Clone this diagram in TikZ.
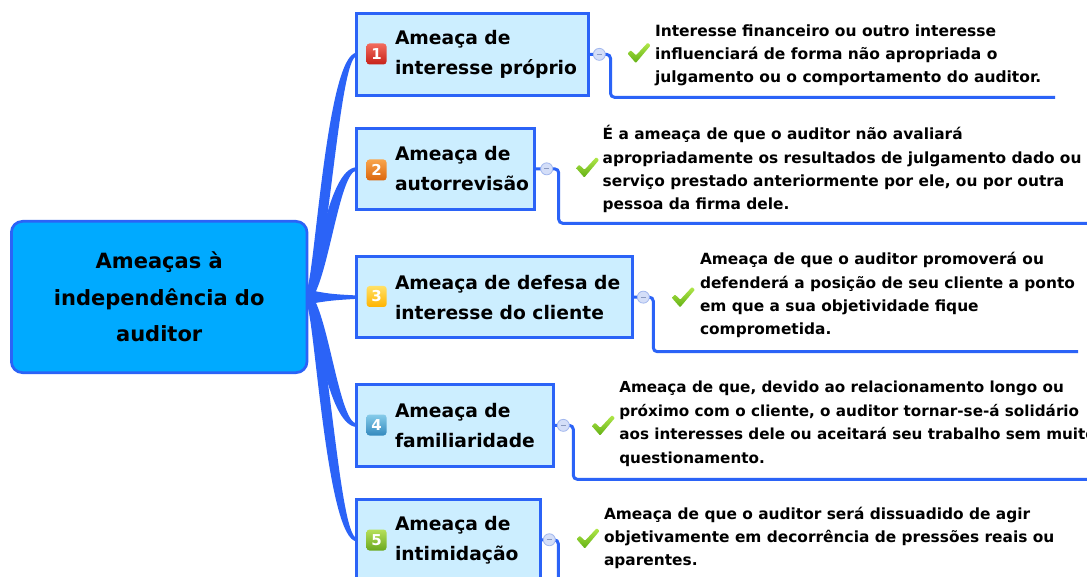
\documentclass[tikz,border=0pt]{standalone}
\usepackage{fontspec}
\setmainfont{DejaVu Sans}
\definecolor{branchblue}{HTML}{2B63F7}
\definecolor{rootfill}{HTML}{00AAFF}
\definecolor{topicfill}{HTML}{CCEEFF}
\definecolor{collfill}{HTML}{D4DEF8}
\definecolor{colldraw}{HTML}{A3B8EE}
\definecolor{minuscol}{HTML}{8A9AC0}
\definecolor{chkA}{HTML}{B2E84A}
\definecolor{chkB}{HTML}{62B014}
\definecolor{iconeAa}{HTML}{F26B5E}\definecolor{iconeAb}{HTML}{C62119}
\definecolor{iconeBa}{HTML}{F8A54C}\definecolor{iconeBb}{HTML}{DB650C}
\definecolor{iconeCa}{HTML}{FFE066}\definecolor{iconeCb}{HTML}{FFB300}
\definecolor{iconeDa}{HTML}{86CCEA}\definecolor{iconeDb}{HTML}{3389BE}
\definecolor{iconeEa}{HTML}{B6E05A}\definecolor{iconeEb}{HTML}{6AA81E}
\newcommand\tstrut{\rule{0pt}{15pt}}
\newcommand\checkmk[2]{%
  \begin{scope}[shift={(#1,#2)}]
    \shade[top color=chkA, bottom color=chkB, rounded corners=0.8pt]
      (-11.5,0.5) -- (-8.3,-2.7) -- (-3,2.3) -- (8.7,-10.3) -- (11.5,-7.5) -- (-3.2,10) -- cycle;
  \end{scope}}
\tikzset{
  branchfill/.style={fill=branchblue},
  rootbox/.style={draw=branchblue, line width=2.7pt, fill=rootfill, rounded corners=11pt,
    align=center, inner sep=0pt, font=\bfseries\fontsize{21}{36.7}\selectfont},
  topicbox/.style={draw=branchblue, line width=3pt, fill=topicfill, inner sep=0pt},
  title/.style={align=left, anchor=west, inner sep=0pt, outer sep=0pt,
    font=\bfseries\fontsize{18.7}{30}\selectfont},
  desc/.style={align=left, anchor=north west, inner sep=0pt, outer sep=0pt,
    font=\bfseries\fontsize{15.4}{23.3}\selectfont},
  conn/.style={draw=branchblue, line width=3pt, rounded corners=4pt},
  collapse/.style={circle, draw=colldraw, fill=collfill, line width=0.8pt,
    minimum size=12pt, inner sep=0pt,
    path picture={\draw[minuscol, line width=0.9pt]
      ([xshift=-2.5pt]path picture bounding box.center) --
      ([xshift=2.5pt]path picture bounding box.center);}},
  numicon/.style={draw=none, rounded corners=3pt, minimum width=20pt, minimum height=21pt,
    inner sep=0pt, text=white, font=\bfseries\fontsize{15}{15}\selectfont},
}
\begin{document}
\begin{tikzpicture}[x=1pt,y=-1pt]
\useasboundingbox (0,0) rectangle (1087,577);
\fill[white] (0,0) rectangle (1087,577);

% branches (tapered)
\fill[branchfill] (306,290) .. controls (314,290) and (326,52.7) .. (357,52.7)
  -- (357,56) .. controls (338,56) and (327,297) .. (306,304) -- cycle;
\fill[branchfill] (306,290) .. controls (314,290) and (326,167.2) .. (357,167.2)
  -- (357,170.5) .. controls (338,170.5) and (327,297) .. (306,304) -- cycle;
\fill[branchfill] (306,289.5) .. controls (330,294) .. (357,295.5)
  -- (357,298.8) .. controls (330,300.5) .. (306,304.5) -- cycle;
\fill[branchfill] (306,304) .. controls (314,304) and (326,427) .. (357,427)
  -- (357,423.7) .. controls (338,423.7) and (327,297) .. (306,290) -- cycle;
\fill[branchfill] (306,304) .. controls (314,304) and (326,541.4) .. (357,541.4)
  -- (357,538.1) .. controls (338,538.1) and (327,297) .. (306,290) -- cycle;

% central node
\node[rootbox, minimum width=295.6pt, minimum height=151.3pt] (root) at (159.2,297)
  {Ameaças à\\independência do\\auditor};

% topic boxes
\node[topicbox, minimum width=232pt, minimum height=81.7pt] (t1) at (472.5,54.35) {};
\node[topicbox, minimum width=178pt, minimum height=81.3pt] (t2) at (445.5,168.85) {};
\node[topicbox, minimum width=276pt, minimum height=81.3pt] (t3) at (494.5,297.15) {};
\node[topicbox, minimum width=197pt, minimum height=82.3pt] (t4) at (455,425.35) {};
\node[topicbox, minimum width=184pt, minimum height=81.5pt] (t5) at (448.5,539.75) {};

% number icons
\node[numicon, top color=iconeAa, bottom color=iconeAb] (n1) at (376.5,54) {1};
\node[numicon, top color=iconeBa, bottom color=iconeBb] (n2) at (376.5,170) {2};
\node[numicon, top color=iconeCa, bottom color=iconeCb] (n3) at (376.7,296.5) {3};
\node[numicon, top color=iconeDa, bottom color=iconeDb] (n4) at (376.5,425) {4};
\node[numicon, top color=iconeEa, bottom color=iconeEb] (n5) at (376.5,540) {5};

% titles
\node[title] (h1) at (395,54.35) {Ameaça de\\interesse próprio};
\node[title] (h2) at (395,168.85) {Ameaça de\\autorrevisão};
\node[title] (h3) at (395,297.15) {Ameaça de defesa de\\interesse do cliente};
\node[title] (h4) at (395,425.35) {Ameaça de\\familiaridade};
\node[title] (h5) at (395,539.75) {Ameaça de\\intimidação};

% connector corner/end coordinates
\coordinate (k1) at (610.5,54.35);  \coordinate (e1) at (1055,97.3);
\coordinate (k2) at (558.7,168.85); \coordinate (e2) at (1095,223.3);
\coordinate (k3) at (653.3,297.15); \coordinate (e3) at (1078,351.7);
\coordinate (k4) at (573.3,425.35); \coordinate (e4) at (1095,479.3);
\coordinate (k5) at (558.3,539.75); \coordinate (e5) at (558.3,595);

\draw[conn] (t1.east) -- (k1) |- (e1);
\draw[conn] (t2.east) -- (k2) |- (e2);
\draw[conn] (t3.east) -- (k3) |- (e3);
\draw[conn] (t4.east) -- (k4) |- (e4);
\draw[conn] (t5.east) -- (k5) -- (e5);

% collapse markers
\node[collapse] (c1) at (599.3,54.35) {};
\node[collapse] (c2) at (546.7,168.85) {};
\node[collapse] (c3) at (643.3,297.15) {};
\node[collapse] (c4) at (563.3,425.35) {};
\node[collapse] (c5) at (549.3,539.75) {};

% check marks
\checkmk{639}{53}
\checkmk{587.5}{167.5}
\checkmk{683.3}{297.3}
\checkmk{603.3}{425.5}
\checkmk{588}{538.5}

% descriptions
\node[desc, font=\bfseries\fontsize{15.5}{22.7}\selectfont] (d1) at (655,21.7)
  {\tstrut Interesse financeiro ou outro interesse\\influenciará de forma não apropriada o\\julgamento ou o comportamento do auditor.};
\node[desc] (d2) at (602.7,125)
  {\tstrut É a ameaça de que o auditor não avaliará\\apropriadamente os resultados de julgamento dado ou\\serviço prestado anteriormente por ele, ou por outra\\pessoa da firma dele.};
\node[desc] (d3) at (700,250)
  {\tstrut Ameaça de que o auditor promoverá ou\\defenderá a posição de seu cliente a ponto\\em que a sua objetividade fique\\comprometida.};
\node[desc, font=\bfseries\fontsize{15.2}{23.5}\selectfont] (d4) at (619.3,377.7)
  {\tstrut Ameaça de que, devido ao relacionamento longo ou\\próximo com o cliente, o auditor tornar-se-á solidário\\aos interesses dele ou aceitará seu trabalho sem muito\\questionamento.};
\node[desc] (d5) at (604,504.3)
  {\tstrut Ameaça de que o auditor será dissuadido de agir\\objetivamente em decorrência de pressões reais ou\\aparentes.};
\end{tikzpicture}
\end{document}
